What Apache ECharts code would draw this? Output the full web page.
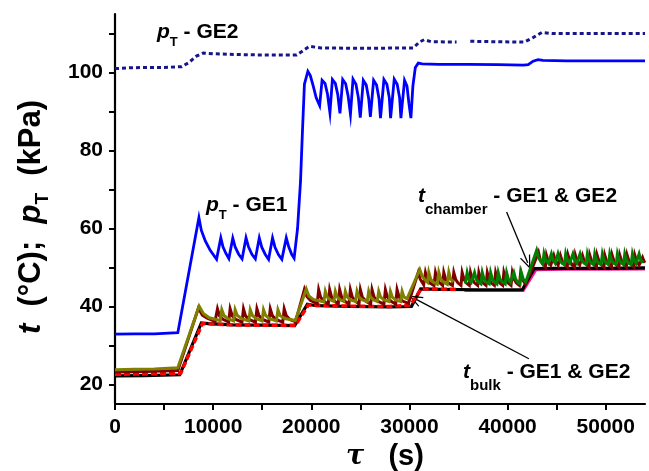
<!DOCTYPE html>
<html>
<head>
<meta charset="utf-8">
<script src="https://cdn.jsdelivr.net/npm/echarts@6/dist/echarts.min.js"></script>
<style>
html,body{margin:0;padding:0;background:#fff;}
#chart{width:649px;height:471px;}
</style>
</head>
<body>
<div id="chart"></div>
<script>
// ---- Tick values ----
const xTickValues = [0,5000,10000,15000,20000,25000,30000,35000,40000,45000,50000];
const xLabelValues = [0,10000,20000,30000,40000,50000];
const yTickValues = [20,30,40,50,60,70,80,90,100,110];
const yLabelValues = [20,40,60,80,100];

// ---- Series data: [time (s), value] ----
const pT_GE1 = [[0,32.9],[2000,33.0],[4000,33.0],[6400,33.3],[8550,62.8],[8800,59.5],[9200,56.8],[9700,54.4],[10350,52.1],
[10780,57.6],[11000,55.3],[11300,53.6],[11600,52.3],
[12000,57.5],[12250,55.2],[12600,53.4],[12950,52.2],
[13350,57.6],[13600,55.3],[13950,53.4],[14300,52.2],
[14700,57.6],[14950,55.2],[15300,53.4],[15650,52.1],
[16050,57.6],[16300,55.2],[16650,53.3],[17000,52.1],
[17450,57.6],[17700,55.3],[18000,53.4],[18250,52.4],
[18600,60],[18900,72],[19100,85],[19300,97],[19650,100.3],[19900,99.2],[20200,96.5],[20500,93.5],[20850,91.5],
[21100,98.0],[21400,97.2],[21650,94.5],[21900,89.7],
[22150,98.2],[22450,97.2],[22700,94.3],[22920,89.5],
[23200,98.2],[23500,97.1],[23750,94.0],[23990,89.3],
[24250,98.3],[24550,97.0],[24800,93.5],[24990,88.4],
[25300,98.0],[25600,96.8],[25850,93.3],[26020,88.6],
[26350,98.0],[26650,96.8],[26900,93.3],[27050,88.3],
[27400,98.2],[27700,97.0],[27950,93.5],[28080,88.3],
[28450,98.3],[28750,97.0],[29000,93.5],[29130,88.3],
[29500,98.0],[29750,96.5],[29950,92.0],[30150,88.3],
[30350,96.5],[30600,101.3],[30900,102.4],[31300,102.2],[33000,102.1],[36000,102.1],[39000,102.0],[41600,101.9],[42100,102.0],[42600,102.9],[43100,103.3],[43600,103.1],[46000,103.0],[50000,103.0],[54000,103.0]];

const pT_GE2 = [[0,101.0],[1500,101.2],[3000,101.3],[5000,101.3],[6800,101.5],[7500,102.5],[8300,104.2],[9000,105.0],[10000,104.8],[12500,104.6],[15000,104.5],[18500,104.5],[19000,105.3],[19800,106.7],[21000,106.3],[25000,106.2],[30400,106.3],[31000,107.8],[31500,108.4],[32200,107.9],[34800,107.8],[35500,'-'],[36200,108.0],[38500,107.9],[41700,107.8],[42500,108.8],[43500,110.3],[44500,110.0],[49000,110.0],[54000,110.0]];

const tBulk_GE1 = [[0,22.2],[3000,22.3],[6600,22.5],[8800,35.8],[9500,35.6],[12000,35.3],[15000,35.2],[18300,35.1],[19600,40.6],[20500,40.2],[24000,40.0],[28000,39.9],[30200,40.0],[31150,44.5],[33000,44.4],[37000,44.3],[41500,44.3],[42700,49.7],[45000,49.8],[50000,49.8],[54000,49.9]];

const tBulk_GE2a = [[0,22.6],[3000,22.7],[6700,22.9],[8900,35.6],[12000,35.3],[15000,35.2],[18400,35.2],[19700,40.4],[24000,40.1],[28000,40.0],[30100,40.4],[31200,44.5],[34800,44.4]];

const tBulk_GE2b = [[35600,44.1],[38000,44.1],[41600,44.1],[42900,49.4],[46000,49.5],[50000,49.5],[54000,49.6]];

const tChamber_GE1 = [[0,23.2],[2000,23.3],[4000,23.4],[6400,23.6],[8500,39.6],[8900,37.8],[9400,37.0],[10200,36.2],
[10300,36.0],[10440,39.4],[10650,37.6],[11000,36.7],[11580,36.0],
[11730,39.4],[11950,37.6],[12300,36.7],[12940,36.0],
[13090,39.4],[13300,37.6],[13650,36.7],[14310,36.0],
[14460,39.4],[14680,37.6],[15050,36.7],[15670,36.0],
[15820,39.4],[16040,37.6],[16400,36.7],[17090,36.0],
[17240,39.4],[17460,37.6],[17800,36.7],[18400,36.1],
[19300,44.4],[19550,42.6],[19900,41.6],[20600,40.7],
[20750,44.3],[20950,42.4],[21250,41.4],[21730,40.6],
[21870,44.3],[22070,42.4],[22350,41.4],[22750,40.6],
[22890,44.3],[23090,42.4],[23400,41.4],[23840,40.6],
[23980,44.3],[24180,42.4],[24480,41.4],[24860,40.6],
[25000,44.3],[25200,42.4],[25550,41.4],[26050,40.6],
[26190,44.3],[26400,42.4],[26750,41.4],[27400,40.6],
[27550,44.3],[27750,42.4],[28100,41.4],[28600,40.6],
[28740,44.3],[28950,42.4],[29300,41.4],[29900,40.8],
[30900,48.8],[31100,47.0],[31450,45.6],
[31630,48.7],[31830,46.9],[32100,46.0],[32500,45.4],
[32650,48.7],[32850,46.9],[33100,46.0],[33380,45.4],
[33500,48.7],[33700,46.9],[34000,46.0],[34380,45.4],
[34520,48.7],[34720,46.9],[34950,46.0],[35250,45.4],
[35370,48.7],[35570,46.9],[35800,46.0],[36100,45.4],
[36220,48.7],[36420,46.9],[36650,46.0],[36950,45.4],
[37070,48.7],[37270,46.9],[37500,46.0],[37800,45.4],
[37930,48.7],[38130,46.9],[38350,46.0],[38650,45.4],
[38780,48.7],[38980,46.9],[39200,46.0],[39500,45.4],
[39620,48.7],[39820,46.9],[40050,46.0],[40350,45.4],
[40480,48.7],[40680,46.9],[40900,46.0],[41200,45.4],
[41330,48.7],[41530,46.9],[41800,45.8],
[42300,48.5],[43150,53.9],[43350,51.8],[43600,50.8],[43850,50.1],
[43960,53.1],[44150,51.5],[44400,50.6],[44600,50.1],
[44710,53.1],[44900,51.5],[45150,50.6],[45300,50.1],
[45380,53.1],[45580,51.5],[45850,50.6],[46080,50.1],
[46170,53.1],[46370,51.5],[46600,50.6],[46820,50.1],
[46910,53.1],[47100,51.5],[47350,50.6],[47550,50.1],
[47630,53.1],[47830,51.5],[48080,50.6],[48300,50.1],
[48380,53.1],[48580,51.5],[48830,50.6],[49050,50.1],
[49130,53.1],[49330,51.5],[49580,50.6],[49820,50.1],
[49910,53.1],[50100,51.5],[50350,50.6],[50580,50.1],
[50660,53.1],[50860,51.5],[51100,50.6],[51350,50.1],
[51440,53.1],[51640,51.5],[51880,50.6],[52100,50.1],
[52190,53.1],[52390,51.5],[52650,50.6],[52880,50.1],
[52970,53.1],[53170,51.5],[53400,50.6],[53600,50.1],
[53750,52.6],[53900,51.6],[54000,51.2]];

const tChamber_GE2a = [[0,23.8],[2000,23.9],[4000,24.0],[6400,24.3],[8570,40.1],[9000,38.2],[9600,37.1],[10400,36.6],
[10730,36.4],[10880,39.2],[11100,37.7],[11500,36.9],[12090,36.3],
[12240,39.2],[12460,37.7],[12900,36.9],[13630,36.3],
[13780,39.2],[14000,37.7],[14400,36.9],[14980,36.3],
[15130,39.2],[15350,37.7],[15750,36.9],[16450,36.3],
[16600,39.2],[16820,37.7],[17300,36.9],[18370,36.4],
[19490,44.5],[19750,42.7],[20200,41.8],[21280,41.2],
[21430,43.9],[21630,42.4],[21950,41.7],[22300,41.3],
[22450,43.9],[22650,42.4],[22950,41.7],[23320,41.3],
[23470,43.9],[23670,42.4],[24000,41.7],[24510,41.3],
[24660,43.9],[24860,42.4],[25200,41.7],[25700,41.3],
[25850,43.9],[26050,42.4],[26350,41.7],[26720,41.3],
[26870,43.9],[27070,42.4],[27400,41.7],[27910,41.3],
[28060,43.9],[28260,42.4],[28600,41.7],[29100,41.3],
[29250,43.9],[29450,42.4],[29760,42.0],
[31050,49.5],[31300,47.8],[31600,46.8],[31850,46.2],
[31970,48.8],[32170,47.0],[32450,46.2],[32840,45.7],
[32990,48.8],[33200,47.0],[33500,46.2],[33860,45.7],
[34010,48.8],[34200,47.0],[34500,46.3]];

const tChamber_GE2b = [[35700,45.9],[35880,48.7],[36050,47.0],[36300,46.2],[36500,45.8],
[36630,48.7],[36800,47.0],[37050,46.2],[37280,45.8],
[37420,48.7],[37600,47.0],[37850,46.2],[38130,45.8],
[38270,48.7],[38450,47.0],[38700,46.2],[38910,45.8],
[39050,48.7],[39230,47.0],[39500,46.2],[39760,45.8],
[39900,48.7],[40080,47.0],[40300,46.2],[40500,45.8],
[40640,48.7],[40820,47.0],[41050,46.2],[41270,45.8],
[41400,48.7],[41600,47.0],[41850,46.3],
[42960,54.4],[43150,52.5],[43400,51.5],[43580,50.9],
[43710,53.5],[43880,51.9],[44150,51.1],[44330,50.8],
[44460,53.5],[44630,51.9],[44850,51.1],[45000,50.8],
[45130,53.5],[45300,51.9],[45550,51.1],[45790,50.8],
[45920,53.5],[46090,51.9],[46330,51.1],[46530,50.8],
[46660,53.5],[46830,51.9],[47050,51.1],[47250,50.8],
[47380,53.5],[47550,51.9],[47780,51.1],[48000,50.8],
[48130,53.5],[48300,51.9],[48530,51.1],[48750,50.8],
[48880,53.5],[49050,51.9],[49300,51.1],[49530,50.8],
[49660,53.5],[49830,51.9],[50060,51.1],[50280,50.8],
[50410,53.5],[50580,51.9],[50800,51.1],[51060,50.8],
[51190,53.5],[51360,51.9],[51600,51.1],[51810,50.8],
[51940,53.5],[52110,51.9],[52350,51.1],[52590,50.8],
[52720,53.5],[52890,51.9],[53100,51.1],[53270,50.8],
[53400,53.5],[53570,51.9],[53800,51.2]];

// Arrow annotations (data coordinates): [from, to]
const arrowChamber = [[39900,64.2],[42050,51.2]];
const arrowBulk = [[42170,26.6],[30550,42.0]];

const FONT = "'Liberation Sans', Arial, sans-serif";

const chart = echarts.init(document.getElementById('chart'), null, {renderer:'canvas'});

function line(name, data, color, width, type, z) {
  return {
    name: name, type: 'line', data: data, showSymbol: false, symbol: 'none',
    connectNulls: false, animation: false, z: z,
    lineStyle: {color: color, width: width, type: type || 'solid', cap: 'butt', join: 'miter'},
    emphasis: {disabled: true}
  };
}

const bulkSeries = line('t_bulk GE1', tBulk_GE1, '#000000', 3.2, 'solid', 4);
bulkSeries.markLine = {
  silent: true, animation: false,
  symbol: ['none', 'path://M0,0 L6,14 L4.6,14 L0,3.5 L-4.6,14 L-6,14 Z'],
  symbolSize: [11, 14],
  lineStyle: {color: '#000', width: 1.3, type: 'solid'},
  label: {show: false},
  emphasis: {disabled: true},
  data: [
    [{coord: arrowChamber[0]}, {coord: arrowChamber[1]}],
    [{coord: arrowBulk[0]}, {coord: arrowBulk[1]}]
  ]
};

function richLabel(x, y, main, sub, rest, subSize, subLH) {
  return {
    type: 'text', left: x, top: y, z: 100,
    style: {
      text: '{i|' + main + '}{s|' + sub + '}{n|' + rest + '}',
      rich: {
        i: {fontFamily: FONT, fontWeight: 'bold', fontStyle: 'italic', fontSize: 21, lineHeight: 22, verticalAlign: 'top', fill: '#000'},
        s: {fontFamily: FONT, fontWeight: 'bold', fontSize: subSize, lineHeight: subLH, verticalAlign: 'bottom', fill: '#000'},
        n: {fontFamily: FONT, fontWeight: 'bold', fontSize: 21, lineHeight: 22, verticalAlign: 'top', fill: '#000'}
      }
    }
  };
}

chart.setOption({
  animation: false,
  backgroundColor: '#fff',
  grid: {left: 115, right: 4, top: 14, bottom: 67, containLabel: false, outerBoundsMode: 'none'},
  xAxis: {
    type: 'value', min: 0, max: 54000,
    name: '{i|τ}   (s)', nameLocation: 'middle', nameGap: 32,
    nameTextStyle: {fontFamily: FONT, fontWeight: 'bold', fontSize: 29, color: '#000', verticalAlign: 'top', padding: [0, 0, 0, 10],
      rich: {i: {fontFamily: 'DejaVu Serif', fontStyle: 'italic', fontWeight: 'bold', fontSize: 27, color: '#000'}}},
    axisLine: {show: true, onZero: false, lineStyle: {color: '#000', width: 2.2}},
    axisTick: {show: true, inside: false, length: 6, lineStyle: {color: '#000', width: 2}, customValues: xTickValues},
    axisLabel: {show: true, margin: 13, fontFamily: FONT, fontWeight: 'bold', fontSize: 21, color: '#000',
      customValues: xLabelValues, formatter: function (v) { return String(v); }},
    splitLine: {show: false}, minorTick: {show: false}
  },
  yAxis: {
    type: 'value', min: 15, max: 115,
    name: '{i|t}  {n|(°C);}  {i|p}{s|T}  {n|(kPa)}', nameLocation: 'middle', nameGap: 81, nameRotate: 90,
    nameTextStyle: {fontFamily: FONT, fontWeight: 'bold', fontSize: 31, color: '#000', verticalAlign: 'middle', align: 'center',
      padding: [0, 16, 0, 0],
      rich: {
        i: {fontFamily: FONT, fontStyle: 'italic', fontWeight: 'bold', fontSize: 31, lineHeight: 34, verticalAlign: 'top', color: '#000'},
        n: {fontFamily: FONT, fontWeight: 'bold', fontSize: 31, lineHeight: 34, verticalAlign: 'top', color: '#000'},
        s: {fontFamily: FONT, fontWeight: 'bold', fontSize: 19, lineHeight: 36, verticalAlign: 'bottom', color: '#000'}
      }},
    axisLine: {show: true, onZero: false, lineStyle: {color: '#000', width: 2.2}},
    axisTick: {show: true, inside: false, length: 6, lineStyle: {color: '#000', width: 2}, customValues: yTickValues},
    axisLabel: {show: true, margin: 12, fontFamily: FONT, fontWeight: 'bold', fontSize: 21, color: '#000', customValues: yLabelValues},
    splitLine: {show: false}, minorTick: {show: false}
  },
  series: [
    line('p_T GE1', pT_GE1, '#0000ff', 2.8, 'solid', 2),
    line('p_T GE2', pT_GE2, '#16168a', 3, [4, 3], 2),
    line('t_bulk GE2 b', tBulk_GE2b, '#ff1493', 2.8, 'solid', 3),
    bulkSeries,
    line('t_bulk GE2 a', tBulk_GE2a, '#ff0000', 3.4, [6, 3], 5),
    line('t_chamber GE1', tChamber_GE1, '#800000', 3, 'solid', 6),
    line('t_chamber GE2 a', tChamber_GE2a, '#808000', 3, 'solid', 7),
    line('t_chamber GE2 b', tChamber_GE2b, '#008000', 3, 'solid', 7)
  ],
  graphic: [
    richLabel(157, 22, 'p', 'T', ' - GE2', 13, 27),
    richLabel(206, 195, 'p', 'T', ' - GE1', 13, 27),
    richLabel(418, 186, 't', 'chamber', ' - GE1 & GE2', 15, 31),
    richLabel(463, 362, 't', 'bulk', ' - GE1 & GE2', 15, 31)
  ]
});
</script>
</body>
</html>
